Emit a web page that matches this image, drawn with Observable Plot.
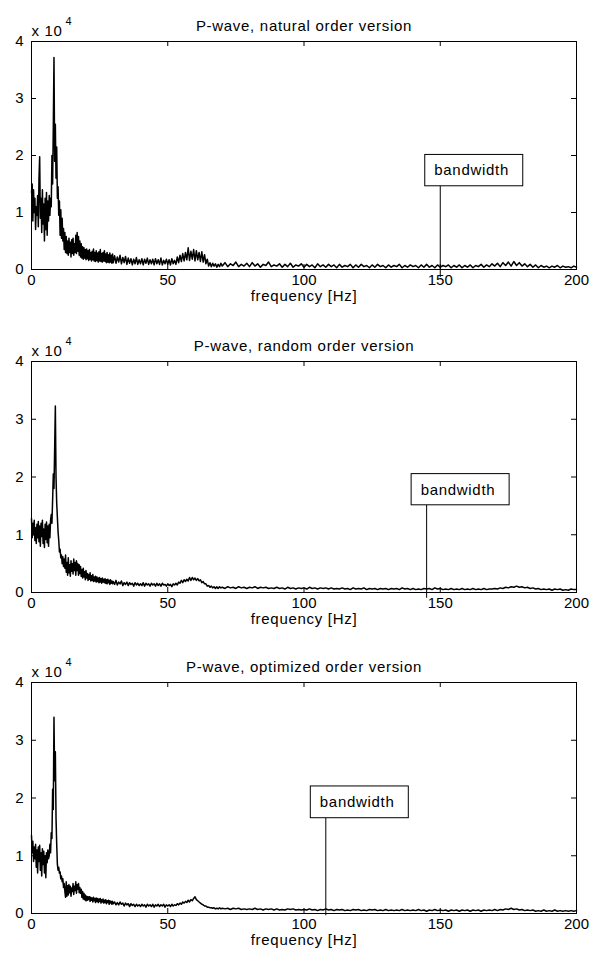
<!DOCTYPE html>
<html><head><meta charset="utf-8">
<script src="https://cdn.jsdelivr.net/npm/d3@7"></script>
<script src="https://cdn.jsdelivr.net/npm/@observablehq/plot@0.6"></script>
<style>
html,body{margin:0;padding:0;background:#fff;}
#chart svg{display:block;}
g[aria-label="text"] text{letter-spacing:0.7px;}
</style></head><body><div id="chart"></div>
<script>
// ---- text ----
const titles = ["P-wave, natural order version", "P-wave, random order version", "P-wave, optimized order version"];
const xLabel = "frequency [Hz]";
const bandLabel = "bandwidth";
const xTicks = [0, 50, 100, 150, 200];
const yTicks = [0, 1, 2, 3, 4]; // units of 10^4

// ---- frequency grids (Hz) of the three stored segments ----
const lowStart = 0, lowStep = 0.25;   // 0 .. 29.75 Hz
const midStart = 30, midStep = 0.5;   // 30 .. 69.5 Hz
const highStart = 70, highStep = 1;   // 70 .. 200 Hz

// ---- spectra, values in hundreds (100 = 1 x 10^4) ----
const naturalLow = [
135,150,85,140,100,125,70,110,95,130,75,160,
198,90,125,65,140,80,115,50,125,70,135,60,
120,85,130,95,125,110,200,150,250,372,190,255,
160,215,125,145,95,120,60,105,55,90,50,72,
35,65,30,58,28,50,25,55,30,48,22,52,
28,55,25,45,30,60,28,65,32,58,25,50,
22,45,20,40,18,38,20,35,17,36,19,33,
16,35,18,30,15,32,17,36,15,30,14,33,
16,29,13,31,15,35,14,28,13,30,15,33,
14,27,12,30,13,26,12,29,13,25,11,27];
const naturalMid = [
12,24,11,22,13,25,10,21,12,23,9,20,11,19,8,18,10,21,9,17,
10,19,8,18,11,20,9,17,10,18,8,19,10,17,9,20,8,16,10,18,
9,17,8,19,10,16,9,22,12,25,14,28,15,30,17,38,16,32,18,35,
15,33,17,30,14,31,13,26,10,18,6,12,5,11,6,10,4,9,5,11];
const naturalHigh = [
6,12,5,10,7,13,5,9,6,11,
5,12,6,10,4,9,7,13,5,8,
6,10,4,9,5,11,4,8,6,10,
4,9,5,8,3,10,5,8,4,9,
5,8,3,9,4,7,5,9,3,8,
4,9,5,7,3,8,4,9,5,7,
3,8,4,7,5,9,3,7,4,8,
5,7,3,8,4,9,4,7,3,8,
4,7,5,8,3,7,4,8,3,7,
4,8,3,7,5,9,4,8,5,10,
6,11,5,12,7,13,6,14,7,12,
6,10,5,9,4,8,3,7,4,6,
3,6,4,7,3,6,4,5,3,6,4];

const randomLow = [
128,95,120,100,125,90,112,85,118,95,123,88,
115,80,120,97,125,85,110,78,118,92,122,86,
115,80,118,95,125,135,120,160,205,180,250,323,
200,155,130,105,90,70,75,60,65,50,62,45,
58,42,65,35,52,30,60,34,48,28,55,37,
50,32,58,38,52,30,55,38,50,30,48,33,
45,28,40,25,42,27,36,22,38,25,33,21,
31,23,34,20,29,21,31,19,27,20,28,18,
27,19,25,17,26,18,24,16,25,18,23,17,
24,16,22,15,23,17,21,14,22,16,20,15];
const randomMid = [
19,14,21,13,18,15,20,12,17,14,18,12,17,14,16,11,17,13,16,12,
15,12,17,11,16,13,15,11,16,13,15,11,16,12,15,11,16,13,14,11,
15,12,14,10,15,13,16,13,18,16,21,17,22,19,23,20,26,21,26,22,
25,21,24,20,22,17,19,15,15,11,12,9,11,8,10,7,10,7,10,8];
const randomHigh = [
9,7,10,8,9,7,10,8,9,7,
9,8,10,7,9,8,9,7,8,7,
9,7,8,6,9,7,8,6,8,7,
8,6,9,7,8,6,8,7,8,6,
8,6,7,6,8,6,7,5,8,6,
7,6,8,5,7,6,7,5,7,6,
7,5,7,6,7,5,8,6,7,5,
7,5,6,5,7,6,7,5,8,6,
7,5,6,5,7,5,6,5,7,5,
6,5,7,5,6,5,7,5,6,6,
7,6,8,7,9,8,10,9,11,9,
10,8,9,7,8,6,7,5,6,5,
6,4,6,5,6,4,5,4,6,5,5];

const optimizedLow = [
135,105,125,90,115,95,120,80,110,70,115,90,
118,75,105,65,112,85,108,70,100,62,105,88,
110,95,100,120,105,140,130,215,180,340,230,280,
165,120,85,75,80,70,72,60,65,55,60,45,
52,38,28,55,30,48,32,50,36,47,30,44,
38,52,33,47,40,55,35,50,42,52,36,45,
35,42,28,38,25,35,24,32,22,30,23,29,
24,29,21,28,23,27,20,28,22,26,19,27,
21,26,19,25,21,26,18,24,20,25,18,23,
19,24,17,22,19,23,16,22,18,21,16,21];
const optimizedMid = [
17,20,15,19,15,20,16,18,13,18,15,17,12,17,14,16,12,16,13,15,
12,16,13,15,11,16,13,15,12,16,11,15,13,16,12,15,13,16,11,15,
13,15,12,16,13,15,14,17,15,18,16,20,18,21,19,23,20,24,22,26,
29,24,22,20,18,16,15,13,13,11,11,10,10,9,10,8,9,8,10,8];
const optimizedHigh = [
9,8,9,7,9,8,9,7,8,7,
8,7,9,7,8,6,8,7,8,6,
8,6,7,6,8,7,8,6,7,6,
7,6,8,6,7,5,7,6,8,6,
7,5,7,6,7,5,6,5,7,6,
7,5,6,5,7,6,7,5,6,5,
7,5,6,5,6,5,7,5,6,5,
6,5,7,5,6,4,6,5,7,5,
6,5,6,4,6,5,6,4,6,5,
6,4,6,5,6,4,6,5,6,5,
7,5,7,6,8,7,9,7,8,6,
7,5,6,5,6,4,5,4,6,4,
5,4,6,4,5,4,5,4,5,4,5];

// ---- bandwidth annotations ----
const bandwidthHz = [150, 145, 108];
const boxLow = [14600, 15100, 16500];
const boxHigh = [20100, 20500, 22000];
const lineLow = [-1400, -1000, -400];

const series = [
  [naturalLow, naturalMid, naturalHigh],
  [randomLow, randomMid, randomHigh],
  [optimizedLow, optimizedMid, optimizedHigh]
];

function buildTable(parts) {
  const segs = [[lowStart, lowStep], [midStart, midStep], [highStart, highStep]];
  const rows = [];
  parts.forEach((vals, s) => vals.forEach((v, i) => rows.push({f: segs[s][0] + i * segs[s][1], v: v * 100})));
  return rows;
}

const W = 597, mL = 31, mR = 21, mT = 41;
const heights = [320, 321, 321];
const mBs = [51, 49, 49];
const tickLen = 5;
const container = document.getElementById("chart");

for (let p = 0; p < 3; p++) {
  const data = buildTable(series[p]);
  const H = heights[p], mB = mBs[p];
  const plotH = H - mT - mB, plotW = W - mL - mR;
  const yT = yTicks.map(t => t * 1e4);
  const ann = [{bw: bandwidthHz[p], lo: boxLow[p], hi: boxHigh[p], ll: lineLow[p]}];
  const chart = Plot.plot({
    width: W, height: H,
    marginLeft: mL, marginRight: mR, marginTop: mT, marginBottom: mB,
    style: {fontFamily: "'Liberation Sans', Arial, sans-serif", fontSize: "15px", background: "#fff", color: "#000", overflow: "visible"},
    x: {domain: [0, 200], ticks: xTicks, tickSize: 0, tickPadding: 5, label: null},
    y: {domain: [0, 40000], ticks: yT, tickSize: 0, tickPadding: 8, tickFormat: d => String(d / 1e4), label: null},
    marks: [
      Plot.line(data, {x: "f", y: "v", stroke: "#000", strokeWidth: 1.5}),
      Plot.frame({stroke: "#000"}),
      Plot.tickX(xTicks, {x: d => d, insetTop: plotH - tickLen, stroke: "#000"}),
      Plot.tickX(xTicks, {x: d => d, insetBottom: plotH - tickLen, stroke: "#000"}),
      Plot.tickY(yT, {y: d => d, insetRight: plotW - tickLen, stroke: "#000"}),
      Plot.tickY(yT, {y: d => d, insetLeft: plotW - tickLen, stroke: "#000"}),
      Plot.ruleX(ann, {x: "bw", y1: "ll", y2: "lo", stroke: "#000", strokeWidth: 1}),
      Plot.rect(ann, {x1: "bw", x2: "bw", y1: "lo", y2: "hi", insetLeft: -15, insetRight: -83, fill: "#fff", stroke: "#000"}),
      Plot.text(ann, {x: "bw", y: d => (d.lo + d.hi) / 2, text: () => bandLabel, textAnchor: "start", dx: -6, fill: "#000"}),
      Plot.text([titles[p]], {frameAnchor: "top", dy: -21, fill: "#000"}),
      Plot.text(["x 10"], {frameAnchor: "top-left", textAnchor: "start", dx: 0, dy: -16, fill: "#000"}),
      Plot.text(["4"], {frameAnchor: "top-left", textAnchor: "start", dx: 34, dy: -24, fontSize: 11, fill: "#000"}),
      Plot.text([xLabel], {frameAnchor: "bottom", dy: 31, fill: "#000"})
    ]
  });
  container.appendChild(chart);
}
</script></body></html>
